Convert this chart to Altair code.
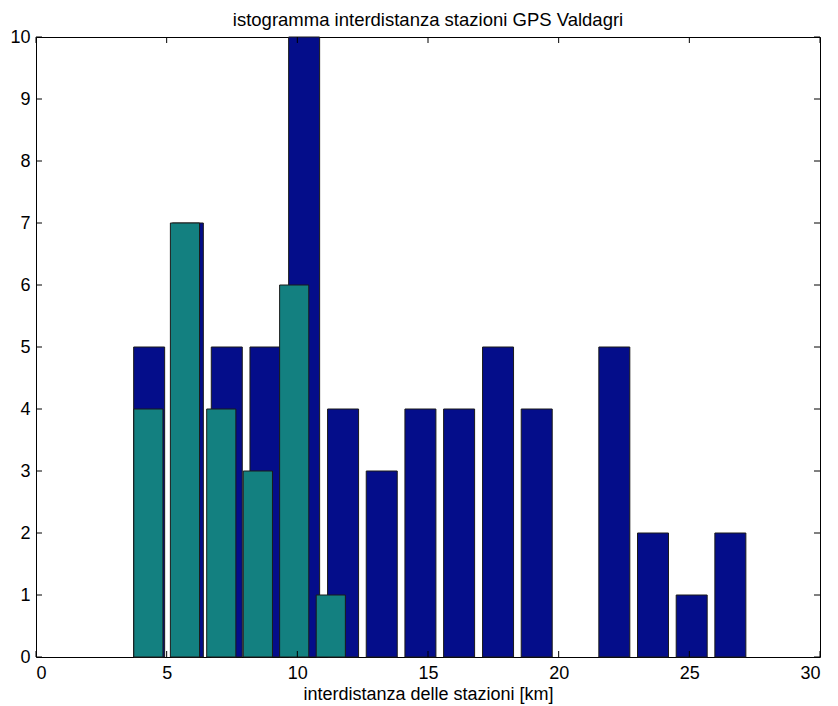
import altair as alt
import pandas as pd

# Histogram of GPS station inter-distances (two station sets, shared bin layout per set)
blue_centers = [4.33, 5.81, 7.30, 8.78, 10.26, 11.75, 13.23, 14.71,
                16.19, 17.68, 19.16, 20.64, 22.13, 23.61, 25.09, 26.57]
blue_counts = [5, 7, 5, 5, 10, 4, 3, 4, 4, 5, 4, 0, 5, 2, 1, 2]

teal_centers = [4.30, 5.70, 7.09, 8.49, 9.88, 11.28]
teal_counts = [4, 7, 4, 3, 6, 1]

x_ticks = [0, 5, 10, 15, 20, 25, 30]
y_ticks = [0, 1, 2, 3, 4, 5, 6, 7, 8, 9, 10]

W, H = 784, 620
FONT = "Liberation Sans"
FS = 18
TICK = 6

blue_df = pd.DataFrame({"c": blue_centers, "n": blue_counts})
teal_df = pd.DataFrame({"c": teal_centers, "n": teal_counts})
xt_df = pd.DataFrame({"t": x_ticks})
yt_df = pd.DataFrame({"t": y_ticks})

xs = alt.Scale(domain=[0, 30], nice=False, zero=False)
ys = alt.Scale(domain=[0, 10], nice=False)

x_axis = alt.Axis(values=x_ticks, ticks=False, domain=False, grid=False,
                  format="d", labelFont=FONT, labelFontSize=FS,
                  labelColor="black", labelPadding=7,
                  title="interdistanza delle stazioni [km]",
                  titleFont=FONT, titleFontSize=FS, titleFontWeight="normal",
                  titleColor="black", titlePadding=3)
y_axis = alt.Axis(values=y_ticks, ticks=False, domain=False, grid=False,
                  format="d", labelFont=FONT, labelFontSize=FS,
                  labelColor="black", labelPadding=6, title=None)

# zero-count bins draw nothing
blue = alt.Chart(blue_df).transform_filter("datum.n > 0").transform_calculate(
    x0="datum.c - 0.593", x1="datum.c + 0.593"
).mark_bar(color="#040D8A", stroke="#1a1a1a", strokeWidth=1).encode(
    x=alt.X("x0:Q", scale=xs, axis=x_axis),
    x2="x1:Q",
    y=alt.Y("n:Q", scale=ys, axis=y_axis),
    y2=alt.datum(0),
)

teal = alt.Chart(teal_df).transform_filter("datum.n > 0").transform_calculate(
    x0="datum.c - 0.558", x1="datum.c + 0.558"
).mark_bar(color="#138080", stroke="#1a1a1a", strokeWidth=1).encode(
    x=alt.X("x0:Q", scale=xs),
    x2="x1:Q",
    y=alt.Y("n:Q", scale=ys),
    y2=alt.datum(0),
)

# inward-pointing ticks on all four sides of the box
tick_style = dict(color="black", strokeWidth=1)
bottom_ticks = alt.Chart(xt_df).mark_rule(**tick_style).encode(
    x=alt.X("t:Q", scale=xs), y=alt.value(H), y2=alt.value(H - TICK))
top_ticks = alt.Chart(xt_df).mark_rule(**tick_style).encode(
    x=alt.X("t:Q", scale=xs), y=alt.value(0), y2=alt.value(TICK))
left_ticks = alt.Chart(yt_df).mark_rule(**tick_style).encode(
    y=alt.Y("t:Q", scale=ys), x=alt.value(0), x2=alt.value(TICK))
right_ticks = alt.Chart(yt_df).mark_rule(**tick_style).encode(
    y=alt.Y("t:Q", scale=ys), x=alt.value(W), x2=alt.value(W - TICK))

chart = alt.layer(
    blue, teal, bottom_ticks, top_ticks, left_ticks, right_ticks
).properties(
    width=W, height=H,
    title=alt.TitleParams("istogramma interdistanza stazioni GPS Valdagri",
                          font=FONT, fontSize=18.5, fontWeight="normal",
                          color="black", anchor="middle", offset=-1),
    autosize=alt.AutoSizeParams(type="none"),
    padding={"left": 36, "top": 37, "right": 18, "bottom": 49},
).configure(
    background="white"
).configure_view(
    stroke="black", strokeWidth=1
)

chart.save("out.html", embed_options={"renderer": "svg", "actions": False})
